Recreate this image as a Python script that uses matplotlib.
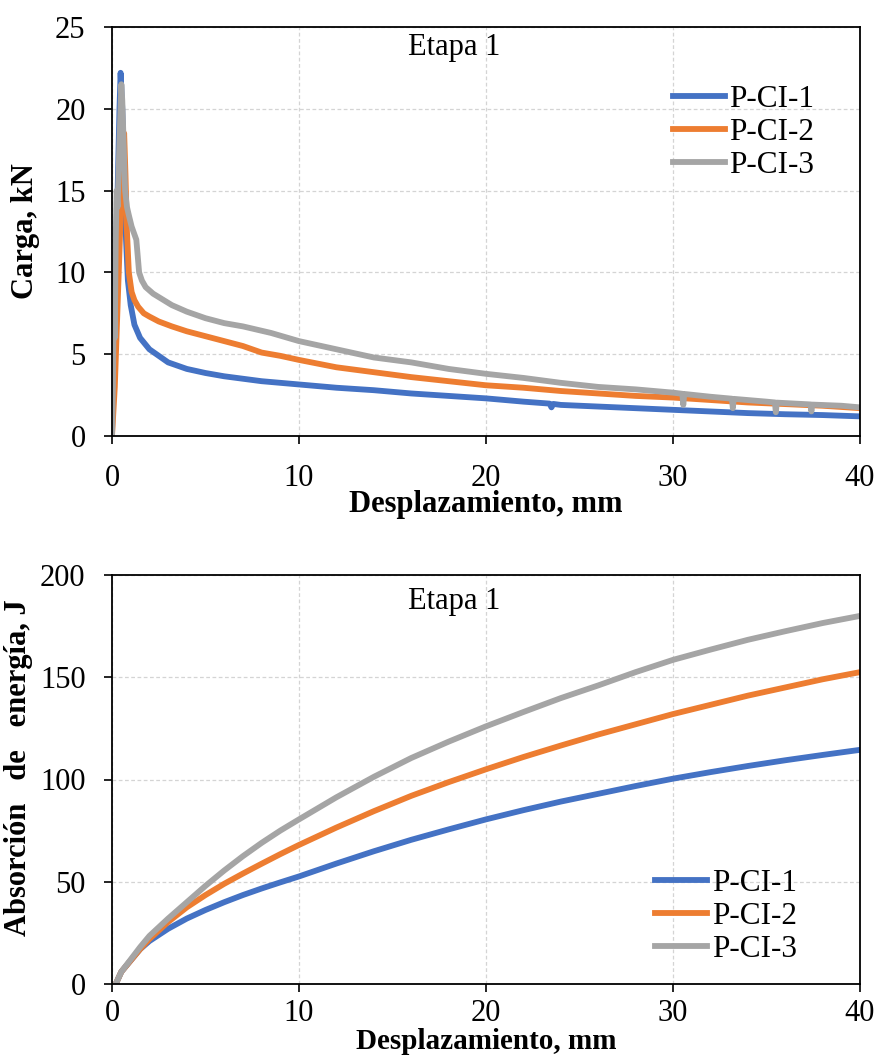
import matplotlib
matplotlib.use("Agg")
import matplotlib.pyplot as plt

plt.rcParams['font.family'] = ['Liberation Serif', 'DejaVu Serif']

# ---------------- data ----------------
series_names = ["P-CI-1", "P-CI-2", "P-CI-3"]
series_colors = ["#4472C4", "#ED7D31", "#A5A5A5"]

# Load vs displacement (top panel)
load_x_1 = [0.0, 0.1, 0.2, 0.3, 0.4, 0.46, 0.55, 0.65, 0.75, 0.85, 1.0, 1.2, 1.5, 2.0, 2.5, 3.0, 4.0,
            5.0, 6.0, 7.0, 8.0, 10.0, 12.0, 14.0, 16.0, 18.0, 20.0, 22.0, 23.4, 23.5, 23.6, 24.0,
            26.0, 28.0, 30.0, 32.0, 34.0, 36.0, 38.0, 40.0]
load_y_1 = [0.0, 7.0, 11.0, 15.0, 20.0, 22.2, 20.0, 16.0, 12.0, 9.5, 8.0, 6.8, 6.0, 5.3, 4.9, 4.5, 4.1,
            3.85, 3.65, 3.5, 3.35, 3.15, 2.95, 2.8, 2.6, 2.45, 2.3, 2.1, 1.98, 1.75, 1.96, 1.9,
            1.8, 1.7, 1.6, 1.5, 1.4, 1.33, 1.28, 1.2]

load_x_2 = [0.0, 0.15, 0.3, 0.45, 0.55, 0.65, 0.72, 0.8, 0.9, 1.05, 1.2, 1.4, 1.7, 2.0, 2.5, 3.2, 4.0,
            5.0, 6.0, 7.0, 8.0, 9.0, 10.0, 12.0, 14.0, 16.0, 18.0, 20.0, 22.0, 24.0, 26.0, 28.0,
            30.0, 32.0, 34.0, 36.0, 38.0, 40.0]
load_y_2 = [0.0, 3.0, 8.0, 13.0, 16.5, 18.5, 16.0, 12.5, 10.0, 8.8, 8.3, 7.9, 7.5, 7.3, 7.0, 6.7, 6.4,
            6.1, 5.8, 5.5, 5.1, 4.9, 4.65, 4.2, 3.9, 3.6, 3.35, 3.1, 2.95, 2.75, 2.6, 2.45,
            2.35, 2.2, 2.05, 1.95, 1.85, 1.7]

load_x_3 = [0.0, 0.05, 0.1, 0.15, 0.2, 0.25, 0.3, 0.4, 0.5, 0.55, 0.62, 0.7, 0.8, 0.9, 1.05, 1.3, 1.45,
            1.6, 1.8, 2.2, 3.2, 4.0, 5.0, 6.0, 7.0, 8.5, 10.0, 12.0, 14.0, 16.0, 18.0, 20.0, 22.0,
            24.0, 26.0, 28.0, 30.0, 30.5, 30.55, 30.6, 32.0, 33.15, 33.2, 33.25, 35.0, 35.45, 35.5,
            35.55, 37.35, 37.4, 37.45, 39.0, 40.0]
load_y_3 = [0.0, 3.0, 9.0, 6.0, 12.0, 15.0, 14.0, 18.0, 21.5, 20.5, 18.0, 15.0, 14.0, 13.5, 12.8, 12.0, 10.0,
            9.5, 9.1, 8.7, 8.0, 7.6, 7.2, 6.9, 6.7, 6.3, 5.8, 5.3, 4.8, 4.5, 4.1, 3.8, 3.55,
            3.25, 3.0, 2.85, 2.65, 2.58, 1.9, 2.57, 2.4, 2.28, 1.7, 2.27, 2.1, 2.05, 1.45,
            2.04, 1.93, 1.5, 1.92, 1.85, 1.75]

# Energy absorption vs displacement (bottom panel)
energy_x = [0.2, 0.5, 1.0, 1.5, 2.0, 3.0, 4.0, 5.0, 6.0, 7.0, 8.0, 9.0, 10.0, 12.0, 14.0, 16.0, 18.0,
            20.0, 22.0, 24.0, 26.0, 28.0, 30.0, 32.0, 34.0, 36.0, 38.0, 40.0]
energy_1 = [0.0, 6.0, 11.5, 17.0, 21.0, 27.0, 32.0, 36.2, 40.0, 43.5, 46.7, 49.7, 52.6, 58.9, 64.9, 70.5, 75.6,
            80.5, 85.0, 89.2, 93.0, 96.8, 100.4, 103.6, 106.6, 109.4, 112.0, 114.5]
energy_2 = [0.0, 6.0, 11.5, 17.0, 22.0, 30.3, 37.5, 43.5, 49.0, 54.0, 58.8, 63.5, 68.0, 76.5, 84.5, 92.0, 98.7,
            105.0, 111.0, 116.6, 122.0, 127.0, 132.0, 136.5, 141.0, 145.0, 149.0, 152.5]
energy_3 = [0.0, 6.0, 12.0, 18.0, 23.5, 32.0, 40.0, 48.0, 55.5, 62.5, 69.0, 75.0, 80.5, 91.3, 101.3, 110.5, 118.5,
            126.0, 133.0, 139.8, 146.0, 152.5, 158.5, 163.5, 168.3, 172.5, 176.5, 180.0]

x_ticks = [0, 10, 20, 30, 40]
load_ticks = [0, 5, 10, 15, 20, 25]
energy_ticks = [0, 50, 100, 150, 200]

# ---------------- figure ----------------
W, H = 879, 1062
fig = plt.figure(figsize=(W / 100, H / 100), dpi=100)

def frac_box(left, top, right, bottom):
    return [left / W, 1 - bottom / H, (right - left) / W, (bottom - top) / H]

ax1 = fig.add_axes(frac_box(112, 27, 860, 436))
ax2 = fig.add_axes(frac_box(112, 575, 860, 984))

TICK_FS = 22
LEG_FS = 22.5

def style(ax, yticks, ylabel, xpad, xlabelpad, xlab_fs, ylab_fs):
    ax.set_xlim(0, 40)
    ax.set_ylim(yticks[0], yticks[-1])
    ax.set_xticks(x_ticks)
    ax.set_yticks(yticks)
    ax.grid(True, color="#d4d4d4", linestyle=(0, (3, 2)), linewidth=0.9)
    ax.set_axisbelow(True)
    for sp in ax.spines.values():
        sp.set_color("black")
        sp.set_linewidth(1.3)
    ax.tick_params(axis="both", direction="out", length=6, width=1.2, labelsize=TICK_FS, color="black")
    ax.tick_params(axis="y", pad=13)
    ax.tick_params(axis="x", pad=xpad)
    ax.set_xlabel("Desplazamiento, mm", fontsize=xlab_fs, fontweight="bold", labelpad=xlabelpad)
    ax.set_ylabel(ylabel, fontsize=ylab_fs, fontweight="bold")

lw = 4.2
for xs, ys, name, c in zip([load_x_1, load_x_2, load_x_3], [load_y_1, load_y_2, load_y_3],
                           series_names, series_colors):
    ax1.plot(xs, ys, color=c, lw=lw, label=name, solid_joinstyle="round")

for ys, name, c in zip([energy_1, energy_2, energy_3], series_names, series_colors):
    ax2.plot(energy_x, ys, color=c, lw=lw, label=name)

style(ax1, load_ticks, "Carga, kN", 14, -2, 22, 22)
style(ax2, energy_ticks, "Absorción   de   energía, J", 5, 0, 21, 22)

ax1.yaxis.set_label_coords(-0.096, 0.5)
ax2.yaxis.set_label_coords(-0.106, 0.53)

ax1.text(0.457, 0.951, "Etapa 1", transform=ax1.transAxes, ha="center", va="center", fontsize=22)
ax2.text(0.457, 0.936, "Etapa 1", transform=ax2.transAxes, ha="center", va="center", fontsize=22)

leg_kw = dict(frameon=False, fontsize=LEG_FS, handlelength=1.66, handletextpad=0.15,
              labelspacing=0.12, borderpad=0, borderaxespad=0, loc="upper left")
ax1.legend(bbox_to_anchor=(0.75, 0.858), **leg_kw)
ax2.legend(bbox_to_anchor=(0.726, 0.281), **leg_kw)

fig.savefig("out.png", dpi=100)
